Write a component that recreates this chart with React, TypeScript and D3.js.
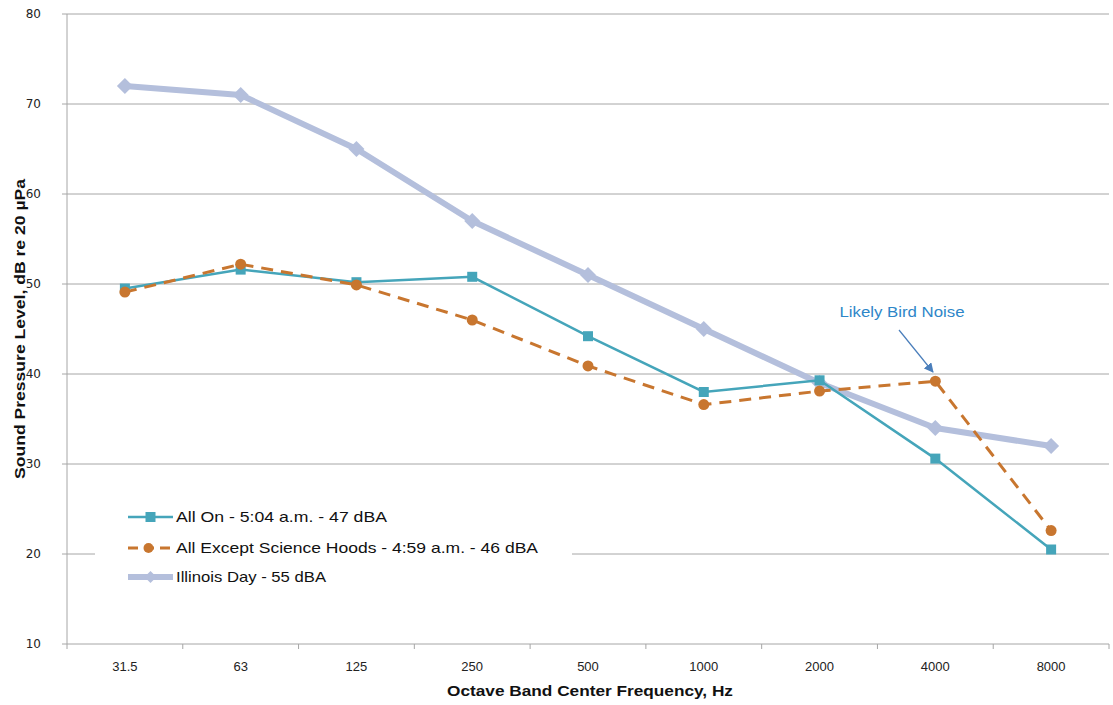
import React from "react";
import * as d3 from "d3";

const categories = ["31.5", "63", "125", "250", "500", "1000", "2000", "4000", "8000"];
const allOn = [49.5, 51.6, 50.2, 50.8, 44.2, 38.0, 39.3, 30.6, 20.5];
const allExcept = [49.1, 52.2, 49.9, 46.0, 40.9, 36.6, 38.1, 39.2, 22.6];
const illinoisDay = [72.0, 71.0, 65.0, 57.0, 51.0, 45.0, 39.0, 34.0, 32.0];
const yTicks = [10, 20, 30, 40, 50, 60, 70, 80];
const seriesNames = [
  "All On - 5:04 a.m. - 47 dBA",
  "All Except Science Hoods - 4:59 a.m. - 46 dBA",
  "Illinois Day - 55 dBA",
];

const W = 1113;
const H = 705;
const left = 67;
const right = 1109;
const top = 14;
const bottom = 644;

const TEAL = "#45A5BA";
const ORANGE = "#C8762F";
const LAV = "#B4BFDC";
const GRID = "#A6A6A6";

export default function App() {
  const x = d3.scaleBand<string>().domain(categories).range([left, right]);
  const y = d3.scaleLinear().domain([10, 80]).range([bottom, top]);
  const cx = (i: number) => (x(categories[i]) as number) + x.bandwidth() / 2;
  const line = d3
    .line<number>()
    .x((_, i) => cx(i))
    .y((d) => y(d));

  const boundaries = categories.map((c) => x(c) as number).concat([right]);

  const diamond = "M0,-8 L8,0 L0,8 L-8,0 Z";
  const smallDiamond = "M0,-6 L6,0 L0,6 L-6,0 Z";

  const legendY = [517, 548, 577];

  return (
    <svg width={W} height={H} style={{ position: "absolute", left: 0, top: 0, background: "#fff" }}>
      <rect x={0} y={0} width={W} height={H} fill="#fff" />
      {/* gridlines */}
      {yTicks.map((t) => (
        <line key={t} x1={left - 5} x2={right} y1={y(t)} y2={y(t)} stroke={GRID} strokeWidth={1} />
      ))}
      {/* y axis */}
      <line x1={left} x2={left} y1={top} y2={bottom} stroke={GRID} strokeWidth={1} />
      {/* x axis ticks */}
      {boundaries.map((b, i) => (
        <line key={i} x1={b} x2={b} y1={bottom} y2={bottom + 5} stroke={GRID} strokeWidth={1} />
      ))}
      {/* y tick labels */}
      {yTicks.map((t) => (
        <text
          key={t}
          x={41}
          y={y(t)}
          dy="0.35em"
          textAnchor="end"
          fontFamily="DejaVu Sans, Verdana, sans-serif"
          fontSize={12}
          fill="#222"
        >
          {t}
        </text>
      ))}
      {/* x tick labels */}
      {categories.map((c, i) => (
        <text
          key={c}
          x={cx(i)}
          y={671}
          textAnchor="middle"
          fontFamily="Liberation Sans Narrow, Liberation Sans, sans-serif"
          fontSize={13}
          fill="#222"
        >
          {c}
        </text>
      ))}
      {/* axis titles */}
      <text
        x={590}
        y={696}
        textAnchor="middle"
        fontFamily="Liberation Sans Narrow, Liberation Sans, sans-serif"
        fontWeight="bold"
        fontSize={15}
        fill="#111"
        textLength={286}
        lengthAdjust="spacingAndGlyphs"
      >
        Octave Band Center Frequency, Hz
      </text>
      <text
        transform={`translate(25,329) rotate(-90)`}
        textAnchor="middle"
        fontFamily="Liberation Sans Narrow, Liberation Sans, sans-serif"
        fontWeight="bold"
        fontSize={15}
        fill="#111"
        textLength={300}
        lengthAdjust="spacingAndGlyphs"
      >
        Sound Pressure Level, dB re 20 µPa
      </text>

      {/* legend background */}
      <rect x={95} y={497} width={477} height={95} fill="#fff" />

      {/* Illinois Day */}
      <path d={line(illinoisDay) as string} fill="none" stroke={LAV} strokeWidth={6} strokeLinejoin="round" />
      {illinoisDay.map((v, i) => (
        <path key={i} d={diamond} transform={`translate(${cx(i)},${y(v)})`} fill={LAV} />
      ))}
      {/* All On */}
      <path d={line(allOn) as string} fill="none" stroke={TEAL} strokeWidth={2.5} />
      {allOn.map((v, i) => (
        <rect key={i} x={cx(i) - 5} y={y(v) - 5} width={10} height={10} fill={TEAL} />
      ))}
      {/* All Except */}
      <path
        d={line(allExcept) as string}
        fill="none"
        stroke={ORANGE}
        strokeWidth={3}
        strokeDasharray="12 8"
      />
      {allExcept.map((v, i) => (
        <circle key={i} cx={cx(i)} cy={y(v)} r={5.5} fill={ORANGE} />
      ))}

      {/* annotation */}
      <text
        x={902}
        y={317}
        textAnchor="middle"
        fontFamily="Liberation Sans Narrow, Liberation Sans, sans-serif"
        fontSize={14}
        fill="#2E86C8"
        textLength={125}
        lengthAdjust="spacingAndGlyphs"
      >
        Likely Bird Noise
      </text>
      <defs>
        <marker id="arr" viewBox="0 0 10 10" refX={9} refY={5} markerWidth={8} markerHeight={8} orient="auto">
          <path d="M0,0 L10,5 L0,10 z" fill="#4A7EBB" />
        </marker>
      </defs>
      <line x1={899} y1={330} x2={933} y2={372} stroke="#4A7EBB" strokeWidth={1.2} markerEnd="url(#arr)" />

      {/* legend */}
      {seriesNames.map((n, i) => {
        const ly = legendY[i];
        const lx1 = 128;
        const lx2 = 173;
        const mid = (lx1 + lx2) / 2;
        return (
          <g key={n}>
            {i === 0 && (
              <>
                <line x1={lx1} x2={lx2} y1={ly} y2={ly} stroke={TEAL} strokeWidth={2.5} />
                <rect x={mid - 5} y={ly - 5} width={10} height={10} fill={TEAL} />
              </>
            )}
            {i === 1 && (
              <>
                <line x1={lx1} x2={lx2 - 3} y1={ly} y2={ly} stroke={ORANGE} strokeWidth={3} strokeDasharray="10 6" />
                <circle cx={mid - 2} cy={ly} r={5} fill={ORANGE} />
              </>
            )}
            {i === 2 && (
              <>
                <line x1={lx1} x2={lx2} y1={ly} y2={ly} stroke={LAV} strokeWidth={6} />
                <path d={smallDiamond} transform={`translate(${mid},${ly})`} fill={LAV} />
              </>
            )}
            <text
              x={176}
              y={ly}
              dy="0.35em"
              fontFamily="Liberation Sans, sans-serif"
              fontSize={15}
              fill="#111"
              textLength={[211, 362, 150][i]}
              lengthAdjust="spacingAndGlyphs"
            >
              {n}
            </text>
          </g>
        );
      })}
    </svg>
  );
}
